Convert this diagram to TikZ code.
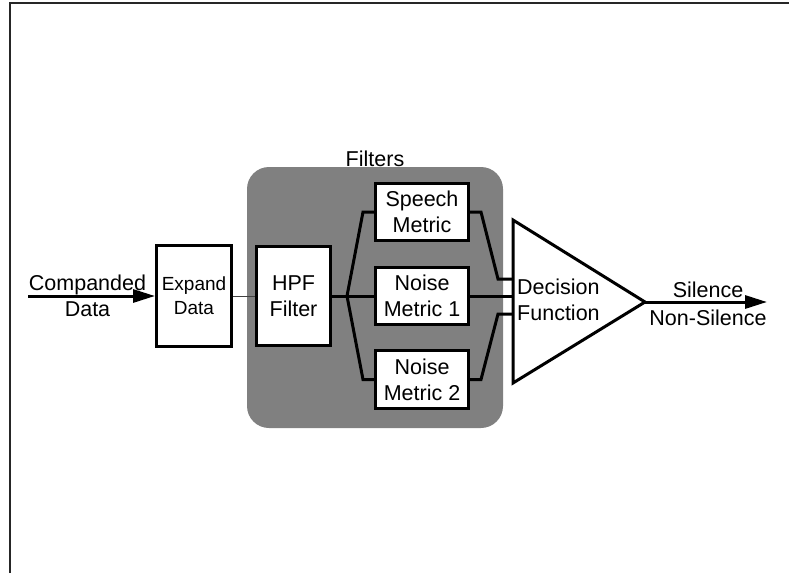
\documentclass[tikz,border=0pt]{standalone}
\usepackage{fontspec}
\setmainfont{Liberation Sans}
\usetikzlibrary{arrows.meta}
\begin{document}
\begin{tikzpicture}[x=1pt,y=-1pt,
  blk/.style={draw,line width=3pt,fill=white,minimum width=93pt,minimum height=57pt,inner sep=0pt,align=center,font=\fontsize{21.5}{26}\selectfont},
  wire/.style={line width=3pt},
  lbl/.style={inner sep=0pt,align=center,font=\fontsize{21.5}{26}\selectfont},
  bigarrow/.style={line width=3pt,-{Triangle[length=22pt,width=13pt]}}
]
\useasboundingbox (0,0) rectangle (789,573);
\draw[line width=1.3pt, black!85] (10,573) -- (10,3) -- (789,3);
% group
\node[fill=black!50, rounded corners=22pt, minimum width=256pt, minimum height=261pt, inner sep=0pt] (grp) at (375,297.5) {};
\node[lbl, anchor=base] (ftl) at (375,166.5) {Filters};
% blocks
\node[blk, minimum width=75pt, minimum height=101pt, font=\fontsize{19}{24}\selectfont] (exp) at (194,296) {Expand\\Data};
\node[blk, minimum width=74pt, minimum height=99pt] (hpf) at (293.5,296) {HPF\\Filter};
\node[blk] (spm) at (422,212) {Speech\\Metric};
\node[blk] (nm1) at (422,296) {Noise\\Metric 1};
\node[blk, minimum height=58pt] (nm2) at (422,379.5) {Noise\\Metric 2};
% decision triangle
\coordinate (ta) at (513,220);
\coordinate (tb) at (513,383);
\coordinate (tc) at (645,302);
\draw[line width=3pt] (ta) -- (tc) -- (tb) -- cycle;
\node[lbl, anchor=west, align=left] (dfl) at (517,300) {Decision\\Function};
% input
\coordinate (cin) at (28,296);
\draw[bigarrow] (cin) -- (exp.west);
\node[lbl] (cdl) at (87.5,296) {Companded\\Data};
\draw[line width=1pt, black!75] (exp.east) -- (hpf.west);
% branches
\coordinate (br) at (347,296);
\draw[wire] (hpf.east) -- (br) -- (nm1.west);
\draw[wire] (br) -- (363,212) -- (spm.west);
\draw[wire] (br) -- (363,379.5) -- (nm2.west);
% outputs to decision
\coordinate (d1) at (513,279);
\coordinate (d2) at (513,296);
\coordinate (d3) at (513,314);
\draw[wire] (spm.east) -- (481,212) -- (498,279) -- (d1);
\draw[wire] (nm1.east) -- (d2);
\draw[wire] (nm2.east) -- (481,379.5) -- (498,314) -- (d3);
% output
\coordinate (out) at (767,302);
\draw[bigarrow] (tc) -- (out);
\node[lbl, font=\fontsize{21.5}{28}\selectfont] (sil) at (708,304) {Silence\\Non-Silence};
\end{tikzpicture}
\end{document}
